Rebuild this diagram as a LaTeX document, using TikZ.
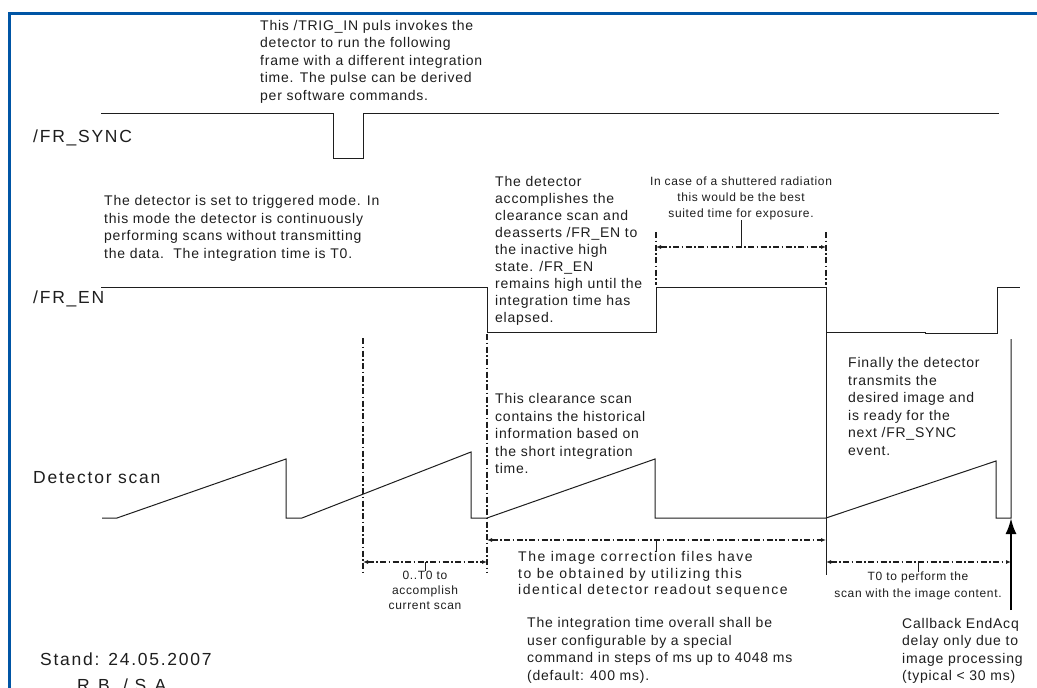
\documentclass[tikz,border=0pt]{standalone}
\usepackage{fontspec}
\setmainfont{Liberation Sans}
\newfontfamily\spacedfont[LetterSpace=10]{Liberation Sans}
\newfontfamily\notefont[LetterSpace=5.5]{Liberation Sans}
\newfontfamily\widefont[LetterSpace=11]{Liberation Sans}
\usetikzlibrary{arrows.meta}
\definecolor{framebl}{RGB}{0,85,165}
\definecolor{ink}{RGB}{30,30,30}

\begin{document}
\begin{tikzpicture}[x=1pt, y=-1pt,
	signal/.style={line width=1pt, draw=ink},
	guide/.style={line width=1.6pt, draw=ink, dash pattern=on 6pt off 2.5pt on 1.5pt off 2.5pt},
	dimline/.style={guide, {Latex[length=5pt,width=4pt]}-{Latex[length=5pt,width=4pt]}},
	note/.style={anchor=north west, align=left, inner sep=0pt, text=ink, font=\notefont\fontsize{14}{17.5}\selectfont},
	small/.style={anchor=north, align=center, inner sep=0pt, text=ink, font=\notefont\fontsize{12}{16}\selectfont},
	signame/.style={anchor=west, inner sep=0pt, text=ink, font=\spacedfont\fontsize{17.5}{20}\selectfont}]
	\useasboundingbox (0,0) rectangle (1037,688);
	\fill[white] (0,0) rectangle (1037,688);
	\draw[framebl, line width=3pt] (9,700) -- (9,13) -- (1040,13);

	\foreach \name/\x/\y/\labl in {
		fsync/33/138/{/FR\_SYNC},
		fen/33/299/{/FR\_EN},
		scan/33/478/{Detector scan},
		stand/40/659/{Stand: 24.05.2007},
		sign/77/685/{R.B. / S.A.}
	}
	{
		\node [signame] (\name) at (\x,\y) {\labl};
	}

	\node [note] (trig) at (260,20) {This /TRIG\_IN puls invokes the\\detector to run the following\\frame with a different integration\\time. The pulse can be derived\\per software commands.};
	\node [note] (mode) at (104,195.5) {The detector is set to triggered mode. In\\this mode the detector is continuously\\performing scans without transmitting\\the data.~~The integration time is T0.};
	\node [note, font=\notefont\fontsize{14}{17}\selectfont] (clear) at (495,176.5) {The detector\\accomplishes the\\clearance scan and\\deasserts /FR\_EN to\\the inactive high\\state. /FR\_EN\\remains high until the\\integration time has\\elapsed.};
	\node [note] (hist) at (495,393.5) {This clearance scan\\contains the historical\\information based on\\the short integration\\time.};
	\node [note] (final) at (848,357.5) {Finally the detector\\transmits the\\desired image and\\is ready for the\\next /FR\_SYNC\\event.};
	\node [note] (overall) at (527,617.5) {The integration time overall shall be\\user configurable by a special\\command in steps of ms up to 4048 ms\\(default: 400 ms).};
	\node [note] (callback) at (902,618) {Callback EndAcq\\delay only due to\\image processing\\(typical < 30 ms)};
	\node [note, font=\widefont\fontsize{14}{16.5}\selectfont] (corr) at (518,551.5) {The image correction files have\\to be obtained by utilizing this\\identical detector readout sequence};

	\node [small] (shutter) at (741,176.5) {In case of a shuttered radiation\\this would be the best\\suited time for exposure.};
	\node [small, font=\notefont\fontsize{12}{15}\selectfont] (zero) at (425,570.5) {0..T0 to\\accomplish\\current scan};
	\node [small, font=\notefont\fontsize{12}{17}\selectfont] (tzero) at (918,571.5) {T0 to perform the\\scan with the image content.};

	\draw [signal] (101,113) -- (333,113) -- (333,158) -- (363,158) -- (363,113) -- (999,113);
	\draw [signal] (101,287) -- (487,287) -- (487,332) -- (656,332) -- (656,287) -- (826,287) -- (826,575);
	\draw [signal] (826,332) -- (925,332) -- (925,333) -- (997,333) -- (997,287) -- (1020,287);
	\draw [signal] (102,518) -- (117,518) -- (286,459) -- (286,518) -- (302,518) -- (471,452) -- (471,518)
		-- (487,518) -- (655,459) -- (655,518) -- (826,518) -- (996,461) -- (996,518) -- (1011,518)
		coordinate (scanend) -- (1011,339);

	\draw [guide] (363,338) -- (363,573);
	\draw [guide] (487,334) -- (487,573);
	\draw [guide] (656,232) -- (656,285);
	\draw [guide] (826,232) -- (826,285);

	\draw [dimline] (656,247) -- (826,247);
	\draw [signal] (741,247) -- (shutter.south);
	\draw [dimline] (363,562) -- (487,562);
	\draw [signal] (425,562) -- (zero.north);
	\draw [dimline] (487,540) -- (826,540);
	\draw [signal] (656,540) -- (656,552);
	\draw [dimline] (826,562) -- (1011,562);
	\draw [signal] (918,562) -- (tzero.north);

	\draw [line width=2.5pt, draw=black, -{Latex[length=16pt,width=11pt]}] (1011,610) -- (scanend);
\end{tikzpicture}
\end{document}
